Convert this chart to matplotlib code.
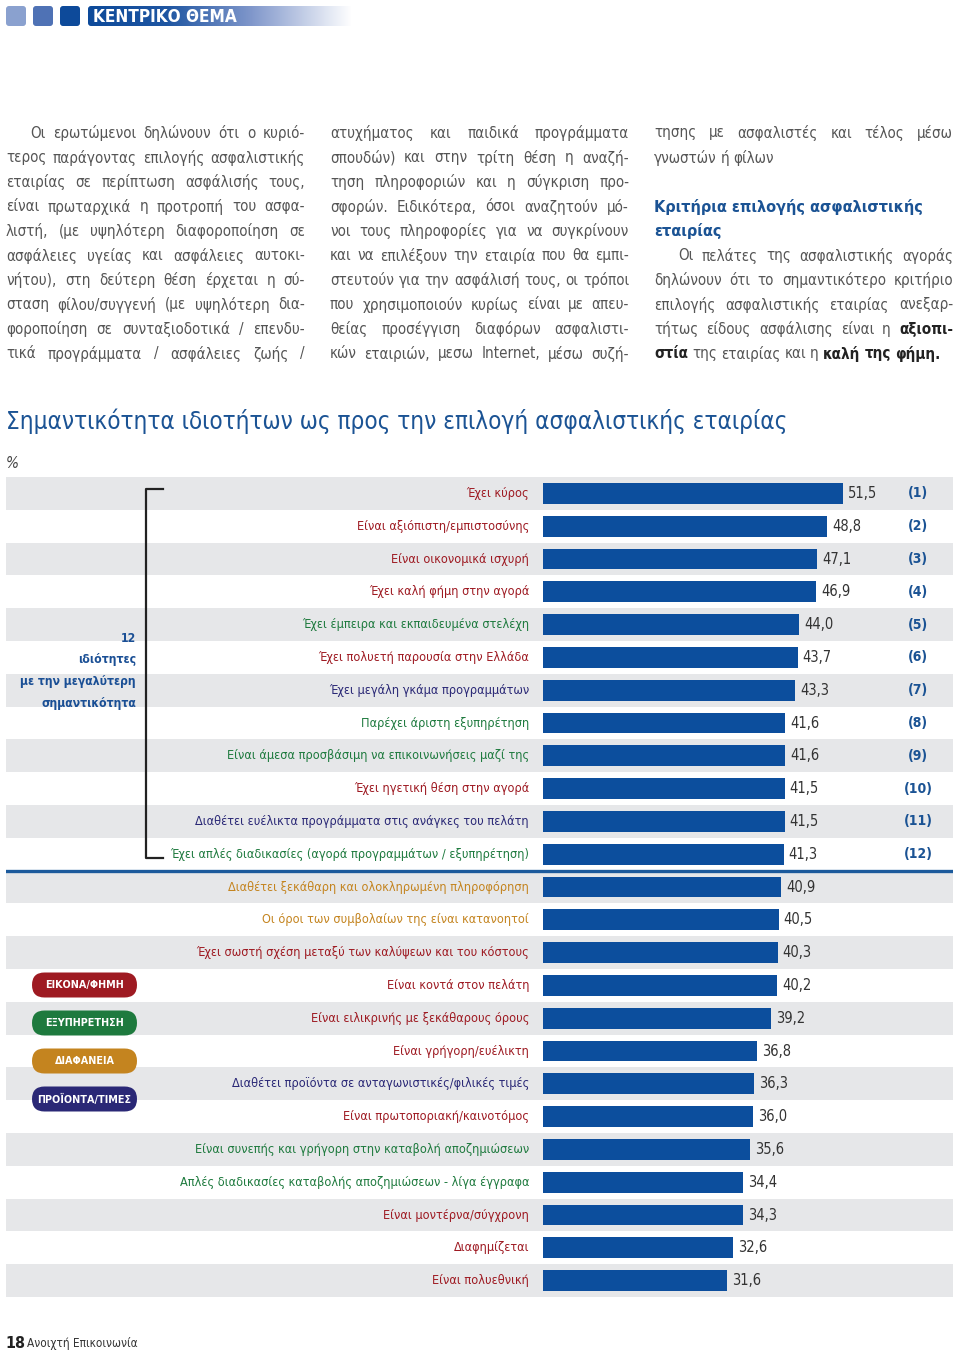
import matplotlib
matplotlib.use('Agg')
import matplotlib.pyplot as plt
from matplotlib.patches import FancyBboxPatch
from matplotlib.colors import LinearSegmentedColormap
import numpy as np

plt.rcParams['font.family'] = ['DejaVu Sans']
plt.rcParams['font.stretch'] = 'condensed'

RED = '#9e1a22'
GREEN = '#1e7a3e'
GOLD = '#c4841f'
NAVY = '#2a2876'
BAR_BLUE = '#0c4e9d'
TITLE_BLUE = '#1b5394'
BODY = '#555555'

# chart data
features = [
    'Έχει κύρος',
    'Είναι αξιόπιστη/εμπιστοσύνης',
    'Είναι οικονομικά ισχυρή',
    'Έχει καλή φήμη στην αγορά',
    'Έχει έμπειρα και εκπαιδευμένα στελέχη',
    'Έχει πολυετή παρουσία στην Ελλάδα',
    'Έχει μεγάλη γκάμα προγραμμάτων',
    'Παρέχει άριστη εξυπηρέτηση',
    'Είναι άμεσα προσβάσιμη να επικοινωνήσεις μαζί της',
    'Έχει ηγετική θέση στην αγορά',
    'Διαθέτει ευέλικτα προγράμματα στις ανάγκες του πελάτη',
    'Έχει απλές διαδικασίες (αγορά προγραμμάτων / εξυπηρέτηση)',
    'Διαθέτει ξεκάθαρη και ολοκληρωμένη πληροφόρηση',
    'Οι όροι των συμβολαίων της είναι κατανοητοί',
    'Έχει σωστή σχέση μεταξύ των καλύψεων και του κόστους',
    'Είναι κοντά στον πελάτη',
    'Είναι ειλικρινής με ξεκάθαρους όρους',
    'Είναι γρήγορη/ευέλικτη',
    'Διαθέτει προϊόντα σε ανταγωνιστικές/φιλικές τιμές',
    'Είναι πρωτοποριακή/καινοτόμος',
    'Είναι συνεπής και γρήγορη στην καταβολή αποζημιώσεων',
    'Απλές διαδικασίες καταβολής αποζημιώσεων - λίγα έγγραφα',
    'Είναι μοντέρνα/σύγχρονη',
    'Διαφημίζεται',
    'Είναι πολυεθνική',
]
values = [51.5, 48.8, 47.1, 46.9, 44.0, 43.7, 43.3, 41.6, 41.6, 41.5, 41.5, 41.3,
          40.9, 40.5, 40.3, 40.2, 39.2, 36.8, 36.3, 36.0, 35.6, 34.4, 34.3, 32.6, 31.6]
groups = [0, 0, 0, 0, 1, 0, 3, 1, 1, 0, 3, 1,
          2, 2, 0, 0, 0, 0, 3, 0, 1, 1, 0, 0, 0]
group_names = ['ΕΙΚΟΝΑ/ΦΗΜΗ', 'ΕΞΥΠΗΡΕΤΗΣΗ', 'ΔΙΑΦΑΝΕΙΑ', 'ΠΡΟΪΟΝΤΑ/ΤΙΜΕΣ']
group_colors = [RED, GREEN, GOLD, NAVY]
n_top = 12
ranks = ['(%d)' % (i + 1) for i in range(n_top)]

title = 'Σημαντικότητα ιδιοτήτων ως προς την επιλογή ασφαλιστικής εταιρίας'
bracket_lines = ['12', 'ιδιότητες', 'με την μεγαλύτερη', 'σημαντικότητα']

# article text, one entry per printed line ('*' marks bold words)
col1 = [
    'Οι ερωτώμενοι δηλώνουν ότι ο κυριό-',
    'τερος παράγοντας επιλογής ασφαλιστικής',
    'εταιρίας σε περίπτωση ασφάλισής τους,',
    'είναι πρωταρχικά η προτροπή του ασφα-',
    'λιστή, (με υψηλότερη διαφοροποίηση σε',
    'ασφάλειες υγείας και ασφάλειες αυτοκι-',
    'νήτου), στη δεύτερη θέση έρχεται η σύ-',
    'σταση φίλου/συγγενή (με υψηλότερη δια-',
    'φοροποίηση σε συνταξιοδοτικά / επενδυ-',
    'τικά προγράμματα / ασφάλειες ζωής /',
]
col2 = [
    'ατυχήματος και παιδικά προγράμματα',
    'σπουδών) και στην τρίτη θέση η αναζή-',
    'τηση πληροφοριών και η σύγκριση προ-',
    'σφορών. Ειδικότερα, όσοι αναζητούν μό-',
    'νοι τους πληροφορίες για να συγκρίνουν',
    'και να επιλέξουν την εταιρία που θα εμπι-',
    'στευτούν για την ασφάλισή τους, οι τρόποι',
    'που χρησιμοποιούν κυρίως είναι με απευ-',
    'θείας προσέγγιση διαφόρων ασφαλιστι-',
    'κών εταιριών, μεσω Internet, μέσω συζή-',
]
col3_top = ['τησης με ασφαλιστές και τέλος μέσω', 'γνωστών ή φίλων']
col3_head = ['Κριτήρια επιλογής ασφαλιστικής', 'εταιρίας']
col3_body = [
    'Οι πελάτες της ασφαλιστικής αγοράς',
    'δηλώνουν ότι το σημαντικότερο κριτήριο',
    'επιλογής ασφαλιστικής εταιρίας ανεξαρ-',
    'τήτως είδους ασφάλισης είναι η *αξιοπι-*',
    '*στία* της εταιρίας και η *καλή* *της* *φήμη.*',
]

fig = plt.figure(figsize=(9.6, 13.51), dpi=100)
page = fig.add_axes([0, 0, 1, 1])
page.set_xlim(0, 960)
page.set_ylim(1351, 0)
page.axis('off')
page.set_zorder(3)
renderer = fig.canvas.get_renderer()


def width_of(t):
    return t.get_window_extent(renderer).width


def fit_size(s, w, **kw):
    t = page.text(0, 0, s, fontsize=10, **kw)
    size = 10 * w / width_of(t)
    t.remove()
    return size


def fit_text(x, y, s, w, **kw):
    return page.text(x, y, s, fontsize=fit_size(s, w, **kw), **kw)


def word_widths(line, size):
    out = []
    for w in line.split():
        bold = w.startswith('*')
        t = page.text(0, 0, w.strip('*'), fontsize=size,
                      fontweight='bold' if bold else 'normal')
        out.append((w.strip('*'), bold, width_of(t)))
        t.remove()
    return out


def text_line(line, x0, x1, y, size, justify=True):
    words = word_widths(line, size)
    total = sum(w[2] for w in words)
    if justify and len(words) > 1:
        gap = (x1 - x0 - total) / (len(words) - 1)
    else:
        gap = size * 1.389 * 0.27
    x = x0
    for s, bold, wd in words:
        page.text(x, y, s, fontsize=size, va='center',
                  color='#222222' if bold else BODY,
                  fontweight='bold' if bold else 'normal')
        x += wd + gap


# header
for i, c in enumerate(['#8aa1cf', '#4f72b5', '#0d4a9a']):
    page.add_patch(FancyBboxPatch((6 + i * 27, 6), 20, 20,
                                  boxstyle='round,pad=0,rounding_size=3',
                                  fc=c, ec='none'))
banner_cmap = LinearSegmentedColormap.from_list(
    'banner', [(0, '#0d4a9a'), (0.3, '#1f56a2'), (0.62, '#8097cb'), (1, '#ffffff')])
im = page.imshow(np.linspace(0, 1, 256)[None, :], extent=[88, 352, 26, 6],
                 cmap=banner_cmap, aspect='auto', zorder=1)
clip = FancyBboxPatch((88, 6), 264, 20, boxstyle='round,pad=0,rounding_size=3',
                      transform=page.transData)
im.set_clip_path(clip)
page.set_xlim(0, 960)
page.set_ylim(1351, 0)
fit_text(93, 16.5, 'ΚΕΝΤΡΙΚΟ ΘΕΜΑ', 144, color='white', va='center', zorder=2,
         fontweight='bold')

# article body
line_y = [133 + i * 24.55 for i in range(10)]
s0 = 10
ratios = []
for lines, indent in [(col1, 24), (col2, 0), (col3_top[:1], 0), (col3_body[:4], 24)]:
    for j, line in enumerate(lines):
        ws = word_widths(line, s0)
        nat = sum(w[2] for w in ws) + (len(ws) - 1) * s0 * 1.389 * 0.27
        ratios.append(nat / (299 - (indent if j == 0 else 0)))
body_size = s0 / max(ratios) * 0.99

for j, line in enumerate(col1):
    text_line(line, 6 + (24 if j == 0 else 0), 305, line_y[j], body_size)
for j, line in enumerate(col2):
    text_line(line, 330, 629, line_y[j], body_size)
text_line(col3_top[0], 654, 953, line_y[0], body_size)
text_line(col3_top[1], 654, 953, line_y[1], body_size, justify=False)
t = fit_text(654, line_y[3], col3_head[0], 269, color=TITLE_BLUE,
             fontweight='bold', va='center')
page.text(654, line_y[4], col3_head[1], fontsize=t.get_fontsize(),
          color=TITLE_BLUE, fontweight='bold', va='center')
for j, line in enumerate(col3_body):
    text_line(line, 654 + (24 if j == 0 else 0), 953, line_y[5 + j], body_size,
              justify=j < len(col3_body) - 1)

# chart title
fit_text(6, 421, title, 782, color=TITLE_BLUE, va='center')
page.text(6, 463, '%', fontsize=11, color='#444444', va='center', style='italic')

# bar chart: 0 % sits at x=543px, 51.5 % ends at x=843px
PX = 300 / 51.5
X0 = 543
ax = fig.add_axes([6 / 960, 1 - 1297 / 1351, 947 / 960, 820 / 1351])
ax.set_xlim((6 - X0) / PX, (953 - X0) / PX)
ax.set_ylim(len(values) - 0.5, -0.5)
ax.axis('off')
ax.set_zorder(1)

y = np.arange(len(values))
for i in y[::2]:
    ax.axhspan(i - 0.5, i + 0.5, color='#e6e7e9', lw=0, zorder=0)
ax.barh(y, values, height=0.64, color=BAR_BLUE, zorder=2)

label_size = fit_size(features[11], 358)
for i, (lab, v, g) in enumerate(zip(features, values, groups)):
    ax.annotate(lab, (0, i), xytext=(-10, 0), textcoords='offset points',
                ha='right', va='center', fontsize=label_size, color=group_colors[g])
    ax.annotate(('%.1f' % v).replace('.', ','), (v, i), xytext=(3.5, 0),
                textcoords='offset points', ha='left', va='center',
                fontsize=10.5, color='#333333')
for i, r in enumerate(ranks):
    ax.text((918 - X0) / PX, i, r, ha='center', va='center', fontsize=10,
            fontweight='bold', color=TITLE_BLUE)

ax.axhline(n_top - 0.5, color='#1c5a9c', lw=2.4, zorder=3)

# bracket around the top 12
bx = (146 - X0) / PX
ax.plot([bx + 17 / PX, bx, bx, bx + 17 / PX], [-0.13, -0.13, n_top - 0.88, n_top - 0.88],
        color='#222222', lw=1.6, clip_on=False, zorder=3)
bsize = fit_size(bracket_lines[2], 116, fontweight='bold')
for k, s in enumerate(bracket_lines):
    page.text(136, 638 + k * 21.8, s, ha='right', va='center',
              fontsize=bsize, fontweight='bold', color='#1a4f95')

# group pills
psize = fit_size(group_names[3], 94, fontweight='bold')
for k, (name, c) in enumerate(zip(group_names, group_colors)):
    cy = 985 + k * 38
    page.add_patch(FancyBboxPatch((32, cy - 12.5), 105, 25,
                                  boxstyle='round,pad=0,rounding_size=12.5',
                                  fc=c, ec='none'))
    page.text(84.5, cy, name, ha='center', va='center', fontsize=psize,
              fontweight='bold', color='white')

# footer
page.text(5, 1343, '18', fontsize=11.5, fontweight='bold', color='#222222', va='center')
page.text(27, 1344, 'Ανοιχτή Επικοινωνία', fontsize=8.5, color='#333333', va='center')

fig.savefig('out.png', dpi=100)
